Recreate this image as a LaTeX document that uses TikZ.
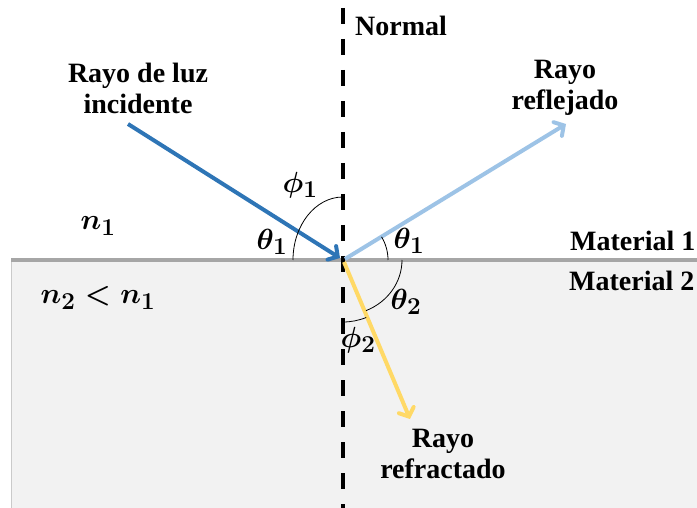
\documentclass[tikz,border=0pt]{standalone}
\usepackage{amsmath,amssymb}
\usepackage{graphicx}
\usepackage{fontspec}
\setmainfont{Liberation Serif}
\usetikzlibrary{arrows.meta}
\definecolor{incblue}{RGB}{46,117,182}
\definecolor{refblue}{RGB}{157,195,230}
\definecolor{fracyel}{RGB}{255,217,102}
\definecolor{medium}{RGB}{242,242,242}
\definecolor{iface}{RGB}{166,166,166}
\newcommand{\bigmath}[1]{\scalebox{1.17}{$\boldsymbol{#1}$}}
\tikzset{
  lbl/.style={font=\fontsize{28}{31}\selectfont\bfseries, align=center, inner sep=0pt},
  mlbl/.style={font=\fontsize{24.88}{30}\selectfont, inner sep=0pt},
  ray/.style={line width=4pt, -{Straight Barb[length=7pt,width=16pt,line cap=round]}},
  anglearc/.style={line width=0.8pt, black},
}
\begin{document}
\begin{tikzpicture}[x=1pt,y=-1pt]
\useasboundingbox (0,0) rectangle (697,508);
\clip (0,0) rectangle (697,508);
% lower medium
\fill[medium] (11,261) rectangle (697,508);
\draw[iface!60, line width=0.8pt] (11,261) -- (11,508);
% interface
\coordinate (O) at (343,260);
\coordinate (ifL) at (11,260);
\coordinate (ifR) at (697,260);
\draw[iface, line width=4pt] (ifL) -- (ifR);
% normal
\coordinate (nT) at (343,8);
\coordinate (nB) at (343,508);
\draw[black, line width=4pt, dash pattern=on 16pt off 15pt] (nT) -- (nB);
% rays
\coordinate (iS) at (128,124);
\coordinate (iE) at (340,258);
\coordinate (rS) at (345,259);
\coordinate (rE) at (566,124);
\coordinate (tS) at (344,262);
\coordinate (tE) at (410,419);
\draw[ray, refblue] (rS) -- (rE);
\draw[ray, fracyel] (tS) -- (tE);
\draw[ray, incblue] (iS) -- (iE);
% angle arcs
\draw[anglearc] (O) ++(-50,0) arc[start angle=180, end angle=90, x radius=50, y radius=-63];
\draw[anglearc] (O) ++(45,0) arc[start angle=0, end angle=31, x radius=45, y radius=-45];
\draw[anglearc] (O) ++(59,0) arc[start angle=0, end angle=-67, x radius=59, y radius=-55];
\draw[anglearc] (O) ++(0,62) arc[start angle=-90, end angle=-68, x radius=62, y radius=-62];
% labels
\node[lbl] (inc) at (138,88) {Rayo de luz\\incidente};
\node[lbl] (refl) at (565,88) {Rayo\\reflejado};
\node[lbl] (refr) at (443,454) {Rayo\\refractado};
\node[lbl] (norm) at (401,26) {Normal};
\node[lbl, anchor=west] (m1) at (570,241) {Material 1};
\node[lbl, anchor=west] (m2) at (569,281) {Material 2};
\node[mlbl] (n1) at (98,226) {\bigmath{n_1}};
\node[mlbl] (n2) at (98,298) {\bigmath{n_2<n_1}};
\node[mlbl] (phi1) at (300,185) {\bigmath{\phi_1}};
\node[mlbl] (th1l) at (272,242) {\bigmath{\theta_1}};
\node[mlbl] (th1r) at (409,241) {\bigmath{\theta_1}};
\node[mlbl] (th2) at (406,302) {\bigmath{\theta_2}};
\node[mlbl] (phi2) at (358,340) {\bigmath{\phi_2}};
\end{tikzpicture}
\end{document}
